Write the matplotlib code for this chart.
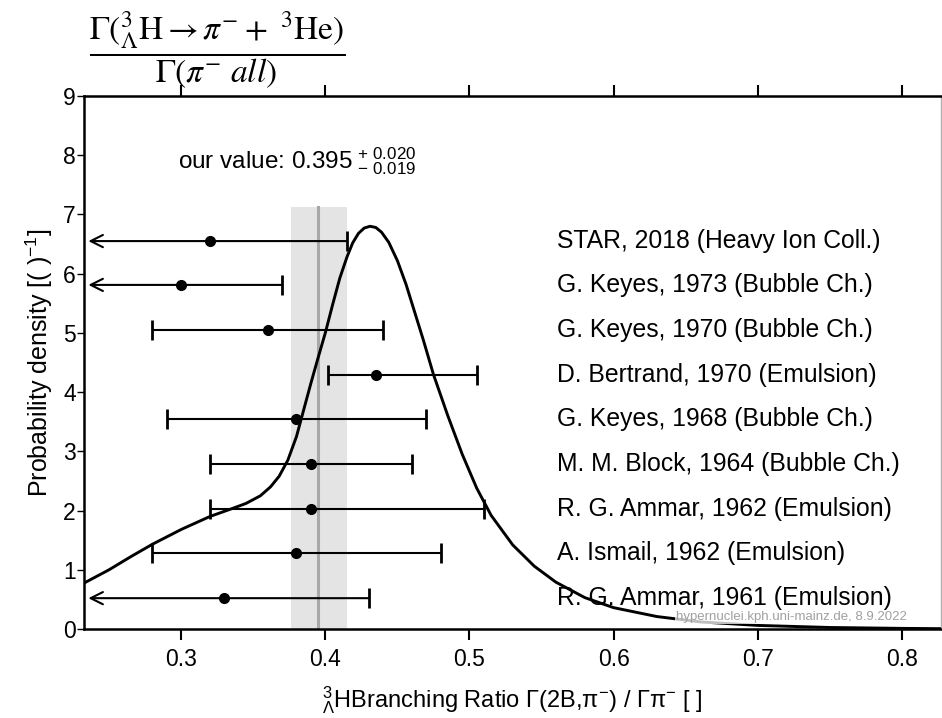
import numpy as np
import matplotlib
matplotlib.use("Agg")
import matplotlib.pyplot as plt

plt.rcParams["font.family"] = ["Liberation Sans", "DejaVu Sans"]
plt.rcParams["mathtext.fontset"] = "custom"
plt.rcParams["mathtext.rm"] = "Liberation Sans"
plt.rcParams["mathtext.it"] = "Liberation Sans:italic"
plt.rcParams["mathtext.bf"] = "Liberation Sans:bold"

# measurements (value, lower end, upper end); nan lower end = upper limit
labels = ["R. G. Ammar, 1961 (Emulsion)",
          "A. Ismail, 1962 (Emulsion)",
          "R. G. Ammar, 1962 (Emulsion)",
          "M. M. Block, 1964 (Bubble Ch.)",
          "G. Keyes, 1968 (Bubble Ch.)",
          "D. Bertrand, 1970 (Emulsion)",
          "G. Keyes, 1970 (Bubble Ch.)",
          "G. Keyes, 1973 (Bubble Ch.)",
          "STAR, 2018 (Heavy Ion Coll.)"]
row_y = [0.52, 1.28, 2.03, 2.79, 3.55, 4.29, 5.05, 5.81, 6.55]
value = [0.33, 0.38, 0.39, 0.39, 0.38, 0.435, 0.36, 0.30, 0.32]
low = [np.nan, 0.28, 0.32, 0.32, 0.29, 0.402, 0.28, np.nan, np.nan]
high = [0.43, 0.48, 0.51, 0.46, 0.47, 0.505, 0.44, 0.37, 0.415]

# combined probability density
curve_x = [0.233, 0.25, 0.265, 0.28, 0.30, 0.32, 0.335, 0.345, 0.355, 0.362,
           0.368, 0.374, 0.38, 0.385, 0.39, 0.395, 0.40, 0.405, 0.41, 0.415,
           0.419, 0.423, 0.427, 0.431, 0.435, 0.439, 0.444, 0.45, 0.456, 0.462,
           0.468, 0.475, 0.485, 0.495,
           0.505, 0.515, 0.53, 0.545, 0.56, 0.58, 0.60, 0.63, 0.66, 0.70,
           0.75, 0.80, 0.827]
curve_y = [0.78, 1.00, 1.22, 1.43, 1.68, 1.90, 2.03, 2.12, 2.25, 2.40,
           2.58, 2.85, 3.25, 3.70, 4.15, 4.58, 5.00, 5.47, 5.92, 6.28,
           6.52, 6.68, 6.77, 6.80, 6.78, 6.70, 6.53, 6.22, 5.82, 5.35,
           4.88, 4.30, 3.60, 2.95,
           2.38, 1.92, 1.42, 1.06, 0.79, 0.53, 0.36, 0.21, 0.12, 0.06,
           0.025, 0.01, 0.005]

our_val = 0.395
our_lo = 0.376
our_hi = 0.415
band_top = 7.13
xmin, xmax = 0.2326, 0.827

fig = plt.figure(figsize=(9.42, 7.18), dpi=100)
ax = fig.add_axes([0.0892, 0.124, 0.9095, 0.7423])

ax.axvspan(our_lo, our_hi, ymin=0, ymax=band_top / 9, color="#e4e4e4", lw=0, zorder=0)
ax.plot([our_val, our_val], [0, band_top], color="#a8a8a8", lw=2.2, zorder=1)

ax.plot(curve_x, curve_y, color="black", lw=2.1, zorder=3, solid_joinstyle="round")

for lab, y, v, lo, hi in zip(labels, row_y, value, low, high):
    if np.isnan(lo):
        ax.annotate("", xy=(xmin + 0.003, y), xytext=(hi, y),
                    arrowprops=dict(arrowstyle="->", lw=1.5, color="black",
                                    mutation_scale=22, shrinkA=0, shrinkB=0),
                    zorder=4)
        ax.plot([hi], [y], marker="|", ms=15, mew=2, color="black", zorder=4)
        ax.plot([v], [y], "o", ms=7, color="black", zorder=5)
    else:
        ax.errorbar([v], [y], xerr=[[v - lo], [hi - v]], fmt="o", ms=7,
                    color="black", ecolor="black", elinewidth=1.5,
                    capsize=7.5, capthick=2, zorder=4)
    ax.text(0.5605, y, lab, fontsize=17.8, va="center", ha="left", zorder=6)

ax.text(0.2975, 7.9, r"our value: $0.395^{\,+\,0.020}_{\,-\,0.019}$", fontsize=17.5,
        va="center", ha="left")

ax.text(0.8035, 0.1, "hypernuclei.kph.uni-mainz.de, 8.9.2022", fontsize=9.5,
        color="#a0a0a0", ha="right", va="bottom", zorder=7,
        bbox=dict(facecolor="white", edgecolor="none", alpha=0.75, pad=0.5))

ax.set_xlim(xmin, xmax)
ax.set_ylim(0, 9)
ax.set_xticks([0.3, 0.4, 0.5, 0.6, 0.7, 0.8])
ax.set_xticklabels(["0.3", "0.4", "0.5", "0.6", "0.7", "0.8"])
ax.set_yticks(range(10))
ax.tick_params(axis="x", direction="out", length=8, width=1.5, top=True,
               labeltop=False, labelsize=16.5, pad=6, color="black")
ax.tick_params(axis="y", direction="out", length=5, width=1.0, labelsize=16.5,
               pad=1, right=False)
for s in ["left", "top", "bottom"]:
    ax.spines[s].set_linewidth(1.8)
    ax.spines[s].set_color("black")
ax.spines["right"].set_color("#b0b0b0")
ax.spines["right"].set_linewidth(1.0)

ax.set_ylabel(r"Probability density [( )$^{-1}$]", fontsize=18, labelpad=6)
ax.set_xlabel(r"${}^{3}_{\Lambda}$HBranching Ratio Γ(2B,π$^{-}$) / Γπ$^{-}$ [ ]",
              fontsize=17, labelpad=9)

fig.text(0.231, 1 - 50 / 718,
         r"$\dfrac{\Gamma({}^{3}_{\Lambda}\mathrm{H} \rightarrow \pi^{-} +\ {}^{3}\mathrm{He})}{\Gamma(\pi^{-}\ all)}$",
         fontsize=24, ha="center", va="center", math_fontfamily="stix")

fig.savefig("out.png", dpi=100)
